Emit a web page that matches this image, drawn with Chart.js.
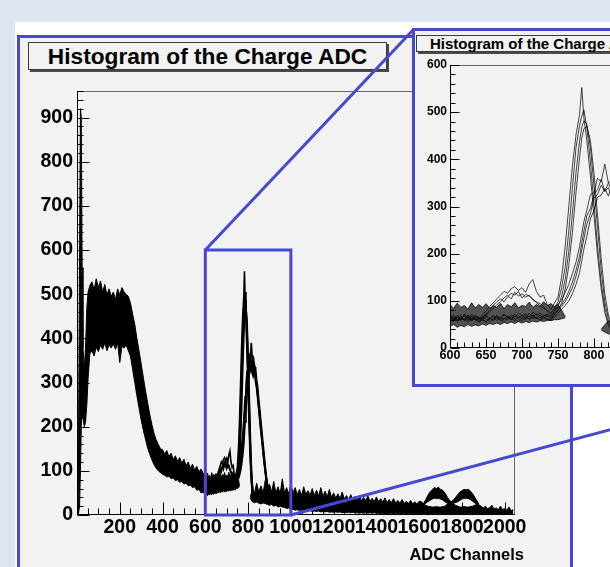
<!DOCTYPE html>
<html>
<head>
<meta charset="utf-8">
<title>Histogram of the Charge ADC</title>
<script src="https://cdn.jsdelivr.net/npm/chart.js@4.4.1/dist/chart.umd.min.js"></script>
<style>
  * { box-sizing: border-box; }
  html, body { margin: 0; padding: 0; }
  body { width: 610px; height: 567px; overflow: hidden; position: relative; background: #dce5f0;
         font-family: "Liberation Sans", Arial, Helvetica, sans-serif; }
  .abs { position: absolute; }
  #card { left: 15px; top: 22px; width: 700px; height: 700px; background: #ffffff; }
  #mainFrame { left: 17px; top: 35px; width: 556px; height: 700px; border: 3px solid #4649cf; background: #f2f2f2; }
  #mainTitle { left: 28px; top: 42px; width: 359px; height: 28px; border: 1px solid #3a3a3a; box-shadow: 2px 2px 0 #4a4a4a;
               background: #f2f2f2; font-weight: bold; font-size: 22.7px; line-height: 26px; text-align: center; color: #000; white-space: nowrap; }
  #mainCanvas { left: 0; top: 0; }
  #xTitle { right: 86px; top: 546px; font-weight: bold; font-size: 16.5px; line-height: 16px; color: #000; white-space: nowrap; }
  #insetFrame { left: 412px; top: 28px; width: 365px; height: 359px; border: 3px solid #4649cf; background: #f2f2f2; }
  #insetTitle { left: 416px; top: 35px; width: 400px; height: 17px; border: 1px solid #3a3a3a; box-shadow: 2px 2px 0 #4a4a4a;
                background: #f2f2f2; font-weight: bold; font-size: 15px; line-height: 15px; padding-left: 13px; color: #000; white-space: nowrap; }
  #insetCanvas { left: 415px; top: 31px; }
  #overlay { left: 0; top: 0; pointer-events: none; }
</style>
</head>
<body>
<div id="card" class="abs"></div>
<div id="mainFrame" class="abs"></div>
<div id="mainTitle" class="abs">Histogram of the Charge ADC</div>
<canvas id="mainCanvas" class="abs" width="610" height="567"></canvas>
<div id="xTitle" class="abs">ADC Channels</div>
<div id="insetFrame" class="abs"></div>
<div id="insetTitle" class="abs">Histogram of the Charge ADC</div>
<canvas id="insetCanvas" class="abs" width="358" height="353"></canvas>
<canvas id="overlay" class="abs" width="610" height="567"></canvas>
<script>
// ---------- DATA ----------
// Bundle of overlaid ADC histograms: upper / lower edge of the dense black band (null = no band there)
const baseX  = [0, 6, 12, 16, 20, 24, 28, 34, 40, 46, 52,
                60, 70, 80, 90, 100, 110, 120, 130, 140, 150, 160, 170, 180, 190, 200, 210, 220, 230, 240, 250,
                260, 270, 280, 290, 300, 310, 320, 330, 340, 350, 360, 370, 380, 390, 400,
                410, 420, 430, 440, 450, 460, 470, 480, 490, 500, 510, 520, 530, 540, 550, 560, 570, 580, 590,
                600, 605, 610, 615, 620, 625, 630, 635, 640, 645, 650, 655, 660, 665, 670, 675, 680, 685, 690, 695,
                700, 705, 710, 715, 720, 725, 730, 735, 740, 745, 750, 755, 760,
                765, 770, 775, 780, 785, 790, 795, 800, 805,
                810, 820, 830, 840, 850, 860, 870, 880, 890, 900, 910, 920, 930, 940, 950, 960, 970, 980, 990, 1000,
                1010, 1020, 1030, 1040, 1050, 1060, 1070, 1080, 1090, 1100, 1110, 1120, 1130, 1140, 1150, 1160, 1170, 1180, 1190, 1200,
                1210, 1220, 1230, 1240, 1250, 1260, 1270, 1280, 1290, 1300, 1310, 1320, 1330, 1340, 1350, 1360, 1370, 1380, 1390, 1400,
                1410, 1420, 1430, 1440, 1450, 1460, 1470, 1480, 1490, 1500, 1510, 1520, 1530, 1540, 1550, 1560, 1570, 1580, 1590, 1600,
                1610, 1620, 1630, 1640, 1650, 1660, 1670, 1680, 1690, 1700, 1710, 1720, 1730, 1740, 1750, 1760, 1770, 1780, 1790, 1800,
                1810, 1820, 1830, 1840, 1850, 1860, 1870, 1880, 1890, 1900, 1910, 1920, 1930, 1940, 1950, 1960, 1970, 1980, 1990, 2000,
                2010, 2020, 2030, 2040];
const baseHi = [0, 40, 600, 920, 900, 560, 380, 330, 380, 470, 505,
                520, 528, 510, 535, 515, 530, 505, 522, 498, 512, 495, 505, 488, 512, 498, 515, 505, 500, 495, 480,
                455, 432, 400, 372, 342, 312, 282, 255, 228, 205, 185, 170, 160, 150, 148,
                138, 146, 132, 140, 126, 134, 122, 130, 118, 126, 112, 120, 106, 115, 102, 110, 98, 104, 94,
                92, 84, 95, 86, 90, 82, 96, 85, 92, 86, 94, 84, 90, 86, 95, 83, 92, 87, 96, 85,
                90, 88, 97, 86, 92, 88, 98, 90, 94, 88, 92, 80, 66,
                null, null, null, null, null, null, null, null, null,
                40, 58, 50, 72, 52, 66, 50, 78, 54, 70, 52, 76, 50, 64, 48, 82, 50, 62, 48, 70,
                50, 62, 46, 58, 44, 64, 47, 55, 45, 60, 44, 56, 43, 62, 42, 54, 41, 58, 40, 50,
                38, 48, 37, 52, 36, 44, 35, 46, 34, 42, 33, 44, 32, 40, 32, 43, 31, 38, 30, 41,
                30, 37, 29, 39, 28, 35, 28, 37, 27, 33, 27, 35, 26, 31, 26, 33, 25, 30, 25, 31,
                30, 26, 22, 20, 19, 18, 18, 19, 18, 18, 19, 20, 24, 28, 30, 26, 22, 20, 18, 18,
                19, 18, 18, 19, 20, 22, 24, 22, 20, 16, 20, 14, 17, 22, 13, 16, 12, 20, 12, 15,
                11, 18, 10, 12];
const baseLo = [0, 0, 20, 100, 200, 235, 220, 200, 210, 250, 310,
                365, 372, 360, 380, 370, 385, 375, 390, 372, 385, 378, 388, 375, 390, 345, 382, 378, 385, 372, 360,
                330, 300, 270, 242, 215, 192, 172, 152, 138, 125, 114, 106, 100, 96, 92,
                90, 86, 88, 82, 84, 78, 80, 74, 76, 70, 72, 66, 68, 62, 64, 56, 58, 50, 52,
                46, 50, 44, 48, 45, 50, 46, 49, 47, 51, 48, 52, 50, 53, 50, 54, 52, 55, 52, 56,
                53, 56, 54, 57, 55, 58, 56, 59, 58, 60, 60, 62, 64,
                null, null, null, null, null, null, null, null, null,
                38, 30, 28, 30, 27, 25, 28, 26, 24, 22, 24, 20, 22, 18, 20, 18, 17, 15, 16, 12,
                13, 11, 12, 10, 11, 9, 10, 9, 10, 8, 9, 8, 9, 7, 8, 7, 8, 6, 7, 6,
                7, 6, 7, 5, 6, 5, 6, 5, 6, 5, 5, 4, 5, 4, 5, 4, 5, 4, 5, 4,
                4, 3, 4, 3, 4, 3, 4, 3, 4, 3, 4, 3, 3, 3, 3, 3, 3, 3, 3, 3,
                3, 3, 3, 3, 3, 3, 3, 3, 3, 3, 3, 3, 3, 3, 3, 3, 3, 3, 3, 3,
                3, 3, 3, 3, 3, 3, 2, 2, 2, 2, 2, 2, 2, 2, 2, 2, 2, 2, 1, 1,
                1, 1, 1, 1];

// The two small bumps near ch 1690 and 1820 (hollow inside)
const bumpX  = [1620, 1630, 1640, 1650, 1660, 1670, 1680, 1690, 1700, 1710, 1720, 1730, 1740, 1750,
                1760, 1770, 1780, 1790, 1800, 1810, 1820, 1830, 1840, 1850, 1860, 1870, 1880];
const bumpHi = [26, 34, 44, 52, 57, 62, 60, 63, 58, 56, 50, 42, 34, 30, 34, 40, 46, 52, 55, 58, 57, 58, 54, 48, 40, 32, 24];
const bumpLo = [24, 26, 30, 33, 36, 38, 37, 38, 36, 34, 30, 27, 26, 28, 27, 28, 30, 33, 36, 38, 38, 37, 35, 31, 27, 23, 22];

// Individual runs from ch 600 to 900 (group A peaks near ch 783, group B near ch 815)
const peakX  = [600, 605, 610, 615, 620, 625, 630, 635,
                640, 645, 650, 655, 660, 665, 670, 675, 680, 685, 690, 695, 700, 705, 710, 715, 720, 725, 730, 735,
                740, 745, 750, 755, 760, 765, 770, 775, 780, 783, 786, 790, 795, 800, 805, 810, 815, 820, 825, 830, 835,
                840, 845, 850, 855, 860, 865, 870, 875, 880, 885, 890, 895, 900];
const peakA1 = [66, 60, 70, 62, 68, 58, 72, 64,
                62, 70, 78, 88, 96, 104, 112, 120, 116, 126, 130, 122, 128, 118, 136, 145, 120, 108, 112, 92,
                82, 95, 108, 150, 215, 300, 385, 452, 495, 552, 488, 440, 365, 280, 195, 125, 75, 48, 38, 34, 40,
                32, 36, 30, 34, 31, 35, 29, 33, 30, 32, 28, 31, 30];
const peakA2 = [60, 68, 58, 66, 62, 70, 60, 64,
                58, 64, 70, 76, 84, 92, 98, 106, 112, 104, 118, 110, 115, 108, 112, 102, 98, 94, 88, 78,
                72, 84, 98, 128, 172, 248, 338, 425, 472, 492, 505, 468, 395, 305, 215, 138, 85, 52, 40, 36, 33,
                38, 31, 35, 30, 33, 29, 34, 30, 31, 28, 32, 30, 29];
const peakA3 = [70, 62, 66, 58, 72, 64, 60, 68,
                64, 58, 68, 60, 70, 62, 66, 72, 64, 70, 66, 74, 68, 72, 66, 76, 70, 74, 68, 72,
                66, 78, 88, 110, 145, 205, 285, 372, 440, 468, 482, 475, 425, 345, 255, 165, 98, 62, 44, 38, 35,
                33, 37, 31, 33, 30, 34, 30, 28, 32, 30, 29, 31, 30];
const peakA4 = [58, 64, 56, 62, 60, 54, 66, 60,
                56, 62, 54, 64, 58, 66, 60, 56, 64, 60, 68, 62, 58, 66, 62, 70, 64, 60, 66, 62,
                60, 70, 80, 95, 125, 175, 245, 330, 405, 445, 465, 470, 440, 370, 280, 190, 115, 70, 48, 40, 36,
                34, 32, 35, 31, 30, 33, 29, 31, 30, 28, 30, 29, 28];
const peakB1 = [64, 70, 60, 66, 58, 68, 62, 70,
                60, 66, 72, 80, 90, 98, 104, 98, 108, 116, 112, 120, 106, 114, 110, 104, 96, 90, 84, 80,
                75, 82, 92, 102, 118, 135, 158, 182, 215, 242, 268, 292, 325, 330, 360, 352, 390, 350, 356, 338, 334,
                305, 290, 262, 238, 212, 188, 162, 138, 112, 90, 72, 62, 58];
const peakB2 = [62, 56, 66, 60, 70, 62, 58, 66,
                66, 60, 70, 64, 58, 68, 62, 70, 66, 60, 72, 64, 70, 62, 74, 66, 62, 70, 64, 68,
                62, 72, 80, 88, 98, 112, 128, 152, 182, 208, 232, 262, 285, 318, 326, 345, 332, 340, 318, 332, 312,
                300, 275, 250, 225, 200, 175, 150, 126, 104, 84, 68, 58, 54];
const peakB3 = [56, 62, 58, 64, 60, 66, 58, 62,
                54, 60, 56, 62, 66, 58, 64, 60, 68, 62, 58, 66, 64, 70, 60, 66, 72, 64, 68, 70,
                68, 75, 84, 92, 104, 120, 140, 165, 195, 222, 248, 280, 296, 326, 336, 358, 332, 350, 330, 324, 300,
                288, 262, 238, 212, 188, 165, 140, 118, 96, 78, 64, 56, 52];
const peakB4 = [68, 60, 64, 70, 58, 62, 68, 60,
                60, 66, 62, 56, 62, 70, 58, 64, 60, 66, 62, 56, 64, 60, 68, 62, 66, 58, 64, 60,
                58, 66, 74, 82, 90, 100, 115, 135, 160, 185, 210, 236, 274, 292, 320, 324, 338, 322, 344, 332, 318,
                286, 268, 242, 218, 192, 170, 146, 122, 100, 82, 66, 56, 50];

// Axis ranges and tick labels
const mainXRange  = [0, 2048];
const mainYRange  = [0, 960];
const mainXTicks  = [200, 400, 600, 800, 1000, 1200, 1400, 1600, 1800, 2000];
const mainYTicks  = [0, 100, 200, 300, 400, 500, 600, 700, 800, 900];
const insetXRange = [600, 1000];
const insetYRange = [0, 600];
const insetXTicks = [600, 650, 700, 750, 800, 850, 900, 950, 1000];
const insetYTicks = [0, 100, 200, 300, 400, 500, 600];

// ---------- STYLE ----------
const FONT = '"Liberation Sans", Arial, Helvetica, sans-serif';
const BLUE = '#4649cf';

const pts = (xs, ys) => xs.map((x, i) => ({ x: x, y: ys[i] }));
const peakTraces = [peakA1, peakA2, peakA3, peakA4, peakB1, peakB2, peakB3, peakB4];

function makeDatasets(bandFill, bandEdge, traceColor, traceWidth) {
  const ds = [
    { data: pts(baseX, baseHi), borderColor: bandEdge, borderWidth: 1, backgroundColor: bandFill, fill: '+1', pointRadius: 0, spanGaps: false },
    { data: pts(baseX, baseLo), borderColor: bandEdge, borderWidth: 1, fill: false, pointRadius: 0, spanGaps: false },
    { data: pts(bumpX, bumpHi), borderColor: bandEdge, borderWidth: 1, backgroundColor: bandFill, fill: '+1', pointRadius: 0 },
    { data: pts(bumpX, bumpLo), borderColor: bandEdge, borderWidth: 1, fill: false, pointRadius: 0 }
  ];
  peakTraces.forEach(t => ds.push({ data: pts(peakX, t), borderColor: traceColor, borderWidth: traceWidth, fill: false, pointRadius: 0 }));
  return ds;
}

function linScale(range, ticks, fontSize, pad, fitSize, horizontal) {
  return {
    type: 'linear', min: range[0], max: range[1],
    afterBuildTicks: s => { s.ticks = ticks.map(v => ({ value: v })); },
    afterFit: s => {
      if (horizontal) s.height = fitSize; else s.width = fitSize;
      s.paddingLeft = 0; s.paddingRight = 0; s.paddingTop = 0; s.paddingBottom = 0;
    },
    grid: { display: false, drawTicks: false },
    border: { display: false },
    ticks: { autoSkip: false, maxRotation: 0, minRotation: 0, padding: pad, color: '#000',
             font: { family: FONT, size: fontSize, weight: 'bold' }, callback: v => String(v) }
  };
}

// ROOT-style frame with inward ticks, drawn through the chart's scales
const rootAxes = {
  id: 'rootAxes',
  afterDatasetsDraw(chart, args, o) {
    const { ctx, chartArea: a, scales: { x, y } } = chart;
    ctx.save();
    ctx.lineWidth = 1;
    ctx.strokeStyle = o.frameColor;
    ctx.beginPath();
    ctx.moveTo(a.left, Math.round(a.top) + 0.5);
    ctx.lineTo(Math.round(a.right) - 0.5, Math.round(a.top) + 0.5);
    ctx.lineTo(Math.round(a.right) - 0.5, a.bottom);
    ctx.stroke();
    ctx.strokeStyle = '#000';
    ctx.beginPath();
    const L = Math.round(a.left) + 0.5, B = Math.round(a.bottom) - 0.5;
    ctx.moveTo(L, a.top); ctx.lineTo(L, B); ctx.lineTo(a.right, B);
    const isMajor = (v, m) => Math.abs(v / m - Math.round(v / m)) < 1e-6;
    for (let v = x.min; v <= x.max + 1e-9; v += o.xMinor) {
      const px = Math.round(x.getPixelForValue(v)) + 0.5;
      ctx.moveTo(px, B); ctx.lineTo(px, B - (isMajor(v, o.xMajor) ? o.majLen : o.minLen));
    }
    for (let v = y.min; v <= y.max + 1e-9; v += o.yMinor) {
      const py = Math.round(y.getPixelForValue(v)) + 0.5;
      ctx.moveTo(L, py); ctx.lineTo(L + (isMajor(v, o.yMajor) ? o.majLen : o.minLen), py);
    }
    ctx.stroke();
    ctx.restore();
  }
};

// ---------- MAIN CHART ----------
const mainChart = new Chart(document.getElementById('mainCanvas'), {
  type: 'line',
  data: { datasets: makeDatasets('#000000', '#000000', '#000000', 1.6) },
  options: {
    responsive: false, animation: false, events: [],
    layout: { padding: { left: 27, top: 91, right: 95, bottom: 0 } },
    plugins: { legend: { display: false }, tooltip: { enabled: false },
               rootAxes: { frameColor: '#666', xMinor: 50, xMajor: 200, yMinor: 20, yMajor: 100, majLen: 12, minLen: 6 } },
    scales: {
      x: linScale(mainXRange, mainXTicks, 19.5, 1, 52, true),
      y: linScale(mainYRange, mainYTicks, 19.5, 4, 50, false)
    }
  },
  plugins: [rootAxes]
});

// ---------- INSET (zoom of 600-1000) ----------
const insetChart = new Chart(document.getElementById('insetCanvas'), {
  type: 'line',
  data: { datasets: makeDatasets('rgba(15,15,15,0.7)', 'rgba(0,0,0,0.8)', 'rgba(0,0,0,0.72)', 1) },
  options: {
    responsive: false, animation: false, events: [],
    layout: { padding: { left: 5, top: 34, right: 35, bottom: 0 } },
    plugins: { legend: { display: false }, tooltip: { enabled: false },
               rootAxes: { frameColor: '#666', xMinor: 10, xMajor: 50, yMinor: 20, yMajor: 100, majLen: 9, minLen: 5 } },
    scales: {
      x: linScale(insetXRange, insetXTicks, 12.5, 0, 36, true),
      y: linScale(insetYRange, insetYTicks, 12, 3, 30, false)
    }
  },
  plugins: [rootAxes]
});

// ---------- ZOOM BOX + CONNECTORS ----------
(function drawOverlay() {
  const ctx = document.getElementById('overlay').getContext('2d');
  const xs = mainChart.scales.x, ys = mainChart.scales.y;
  const ix = insetChart.scales.x, iy = insetChart.scales.y;
  const x0 = xs.getPixelForValue(ix.min), x1 = xs.getPixelForValue(ix.max);
  const y0 = ys.getPixelForValue(iy.max), y1 = ys.getPixelForValue(iy.min);
  const f = document.getElementById('insetFrame');
  const fl = f.offsetLeft + 1.5, ft = f.offsetTop + 1.5;
  const fr = f.offsetLeft + f.offsetWidth - 1.5, fb = f.offsetTop + f.offsetHeight - 1.5;
  ctx.strokeStyle = BLUE;
  ctx.lineWidth = 3;
  ctx.lineJoin = 'miter';
  ctx.strokeRect(x0, y0, x1 - x0, y1 - y0);
  ctx.beginPath();
  ctx.moveTo(x0, y0); ctx.lineTo(fl, ft);
  ctx.moveTo(x1, y1); ctx.lineTo(fr, fb);
  ctx.stroke();
})();
</script>
</body>
</html>
